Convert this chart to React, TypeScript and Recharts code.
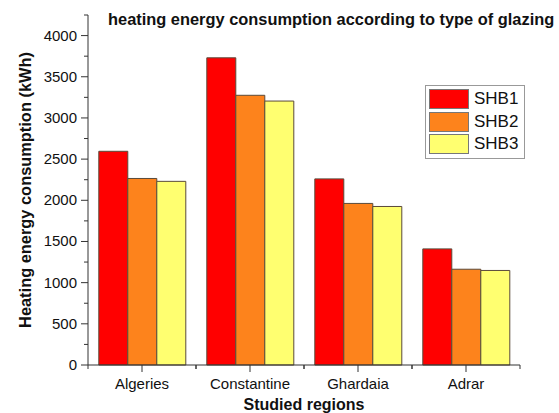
import { Bar, BarChart, XAxis, YAxis } from "recharts";

const regions = ["Algeries", "Constantine", "Ghardaia", "Adrar"];
const shb1 = [2595, 3730, 2260, 1410];
const shb2 = [2265, 3275, 1962, 1163];
const shb3 = [2230, 3205, 1925, 1148];
const yTicks = [0, 250, 500, 750, 1000, 1250, 1500, 1750, 2000, 2250, 2500, 2750, 3000, 3250, 3500, 3750, 4000, 4250];

const series = [
  { key: "SHB1", color: "#FF0000" },
  { key: "SHB2", color: "#FD831C" },
  { key: "SHB3", color: "#FFFF70" },
];

const data = regions.map((region, i) => ({
  region,
  SHB1: shb1[i],
  SHB2: shb2[i],
  SHB3: shb3[i],
}));

const FONT = "'Liberation Sans', Arial, sans-serif";
const AXIS = "#333333";
const HALF_BAND = 54;

function YTick(props: any) {
  const { x, y, payload } = props;
  const major = payload.value % 500 === 0;
  return (
    <g>
      <line x1={x} x2={x - (major ? 7 : 4)} y1={y} y2={y} stroke={AXIS} strokeWidth={1} />
      {major && (
        <text x={x - 11} y={y} dy={5} textAnchor="end" fontSize={15} fill="#111" fontFamily={FONT}>
          {payload.value}
        </text>
      )}
    </g>
  );
}

function XTick(props: any) {
  const { x, y, payload } = props;
  return (
    <g>
      <line x1={x} x2={x} y1={y} y2={y + 7} stroke={AXIS} strokeWidth={1} />
      <line x1={x - HALF_BAND} x2={x - HALF_BAND} y1={y} y2={y + 4} stroke={AXIS} strokeWidth={1} />
      <line x1={x + HALF_BAND} x2={x + HALF_BAND} y1={y} y2={y + 4} stroke={AXIS} strokeWidth={1} />
      <text x={x} y={y + 24} textAnchor="middle" fontSize={15} fill="#111" fontFamily={FONT}>
        {payload.value}
      </text>
    </g>
  );
}

function LegendBox() {
  return (
    <div
      style={{
        position: "absolute",
        left: 425,
        top: 85,
        border: "1px solid #999",
        background: "#fff",
        padding: "2px 3px",
        width: 92,
        fontFamily: FONT,
      }}
    >
      {series.map((s) => (
        <div key={s.key} style={{ display: "flex", alignItems: "center", height: 22.5 }}>
          <span
            style={{
              width: 38,
              height: 18,
              background: s.color,
              border: "1px solid #777",
              marginRight: 5,
            }}
          />
          <span style={{ fontSize: 17, color: "#111" }}>{s.key}</span>
        </div>
      ))}
    </div>
  );
}

export default function App() {
  return (
    <div style={{ position: "relative", width: 559, height: 413, background: "#fff", fontFamily: FONT }}>
      <style>{`body{margin:0}`}</style>
      <BarChart
        width={559}
        height={413}
        data={data}
        margin={{ top: 15, right: 39, bottom: 0, left: 28 }}
        barCategoryGap="10%"
        barGap={0}
      >
        <XAxis
          dataKey="region"
          height={48}
          stroke={AXIS}
          tickLine={false}
          tickSize={0}
          tickMargin={0}
          tick={<XTick />}
          interval={0}
          label={{
            value: "Studied regions",
            position: "insideBottom",
            offset: 3,
            fontSize: 16,
            fontWeight: "bold",
            fill: "#111",
            fontFamily: FONT,
          }}
        />
        <YAxis
          width={60}
          domain={[0, 4250]}
          ticks={yTicks}
          interval={0}
          stroke={AXIS}
          tickLine={false}
          tickSize={0}
          tickMargin={0}
          tick={<YTick />}
          label={{
            value: "Heating energy consumption (kWh)",
            angle: -90,
            position: "insideLeft",
            offset: -3,
            style: { textAnchor: "middle" },
            fontSize: 16.4,
            fontWeight: "bold",
            fill: "#111",
            fontFamily: FONT,
          }}
        />
        {series.map((s) => (
          <Bar
            key={s.key}
            dataKey={s.key}
            fill={s.color}
            stroke="#5a4a3a"
            strokeWidth={1}
            isAnimationActive={false}
          />
        ))}
      </BarChart>
      <div
        style={{
          position: "absolute",
          left: 108,
          top: 10,
          fontSize: 16.4,
          fontWeight: "bold",
          color: "#111",
          whiteSpace: "nowrap",
        }}
      >
        heating energy consumption according to type of glazing
      </div>
      <LegendBox />
    </div>
  );
}
